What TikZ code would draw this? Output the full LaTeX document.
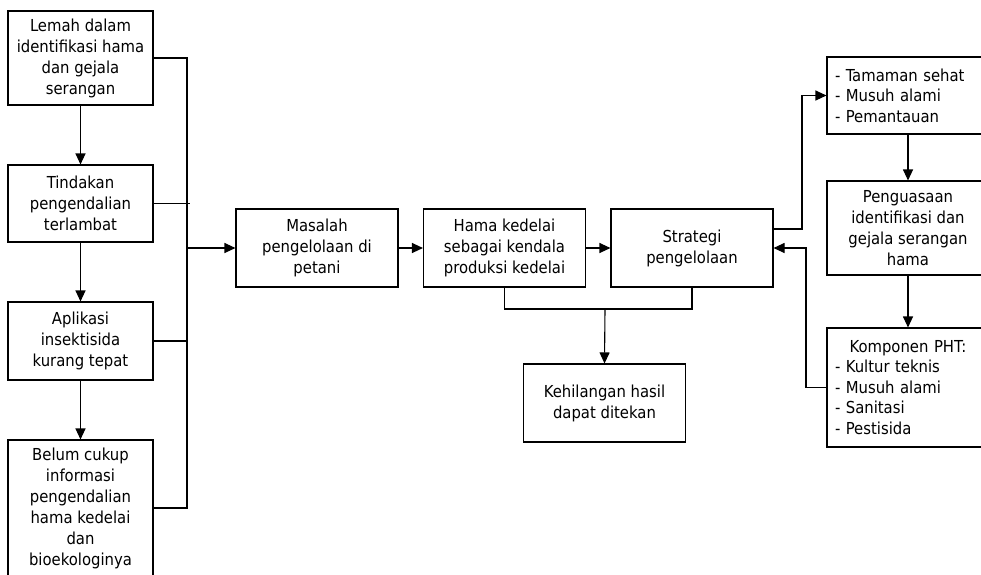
\documentclass[tikz,border=0pt]{standalone}
\usepackage{fontspec}
\setmainfont{DejaVu Sans Condensed}
\usetikzlibrary{arrows.meta}
\begin{document}
\begin{tikzpicture}[x=1pt,y=-1pt,
  box/.style={draw, line width=1.1pt, minimum width=145pt, align=center, inner sep=0pt,
    font=\fontsize{16.5}{21}\selectfont},
  wbox/.style={box, minimum width=162pt, minimum height=78pt},
  rbox/.style={draw, line width=1.1pt, text width=146pt, inner xsep=8pt, inner ysep=0pt, align=left,
    font=\fontsize{16.5}{20.5}\selectfont},
  ln/.style={line width=1.1pt},
  arr/.style={line width=1.1pt, -{Triangle[length=11pt,width=10pt]}}]
\useasboundingbox (0,0) rectangle (981,574);
\clip (0,0) rectangle (981,574);
% left column
\node[box, minimum height=94pt] (b1) at (80.5,58) {Lemah dalam\\identifikasi hama\\dan gejala\\serangan};
\node[box, minimum height=77pt] (b2) at (80.5,203.5) {Tindakan\\pengendalian\\terlambat};
\node[box, minimum height=78pt] (b3) at (80.5,341) {Aplikasi\\insektisida\\kurang tepat};
\node[box, minimum height=136pt] (b4) at (80.5,508) {Belum cukup\\informasi\\pengendalian\\hama kedelai\\dan\\bioekologinya};
% middle
\node[wbox] (mas) at (317,248) {Masalah\\pengelolaan di\\petani};
\node[wbox] (ham) at (504.5,248) {Hama kedelai\\sebagai kendala\\produksi kedelai};
\node[wbox] (str) at (692,248) {Strategi\\pengelolaan};
\node[wbox] (keh) at (604.5,403) {Kehilangan hasil\\dapat ditekan};
% right column
\node[rbox, minimum height=77pt] (r1) at (908,95.5) {- Tamaman sehat\\- Musuh alami\\- Pemantauan};
\node[box, minimum width=162pt, minimum height=94pt] (r2) at (908,228) {Penguasaan\\identifikasi dan\\gejala serangan\\hama};
\node[rbox, minimum height=119pt] (r3) at (908,387.5) {\makebox[146pt][c]{Komponen PHT:}\\- Kultur teknis\\- Musuh alami\\- Sanitasi\\- Pestisida};
% left connectors
\draw[arr] (b1.south) -- (b2.north);
\draw[arr] (b2.south) -- (b3.north);
\draw[arr] (b3.south) -- (b4.north);
\coordinate (bt) at (187,58);
\coordinate (bb) at (187,508);
\coordinate (bm) at (187,248);
\draw[ln] (b1.east) -- (bt) -- (bb) -- (b4.east);
\draw[ln] (b2.east) -- ++(36,0);
\draw[ln] (b3.east) -- (187,341);
\draw[arr] (bm) -- (mas.west);
% middle connectors
\draw[arr] (mas.east) -- (ham.west);
\draw[arr] (ham.east) -- (str.west);
\coordinate (j) at (605,309);
\draw[ln] (ham.south) -- (504.5,309) -- (692,309) -- (str.south);
\draw[arr] (j) -- (keh.north);
% right connectors
\draw[arr] ([yshift=19pt]str.east) -- (802,229) |- (r1.west);
\draw[arr] (r1.south) -- (r2.north);
\draw[arr] (r2.south) -- (r3.north);
\draw[arr] (r3.west) -- (806,387.5) |- (str.east);
\end{tikzpicture}
\end{document}
